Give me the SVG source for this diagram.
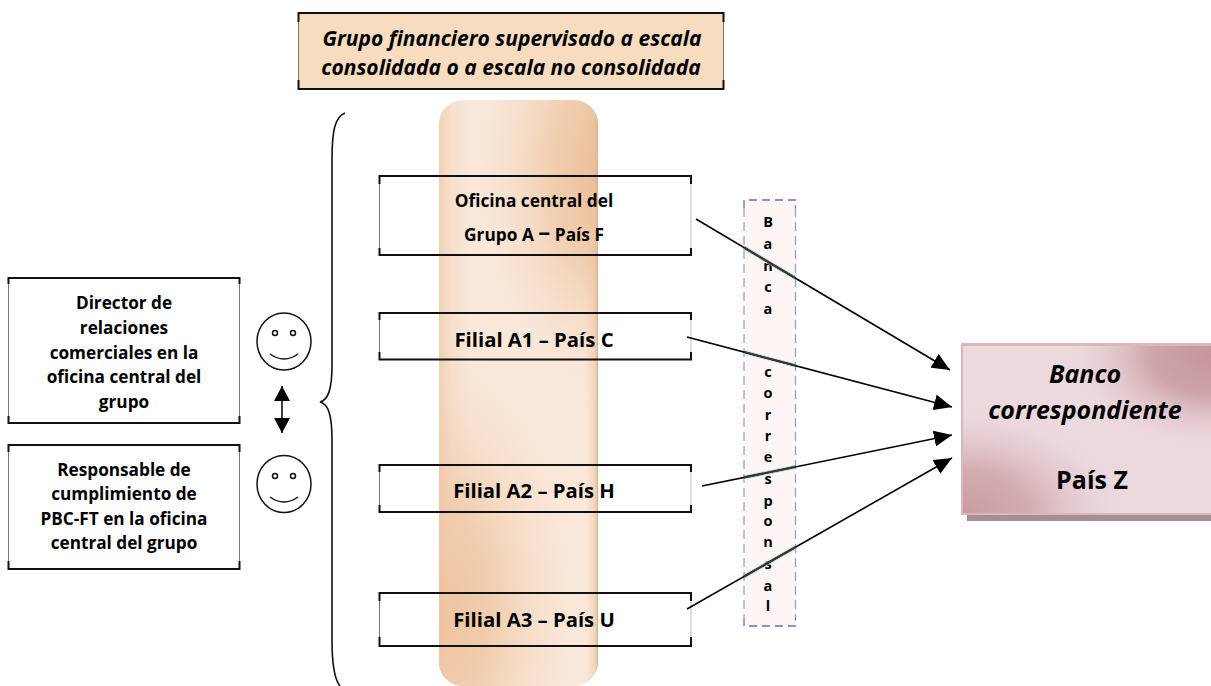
<svg xmlns="http://www.w3.org/2000/svg" width="1211" height="686" viewBox="0 0 1211 686">
<style>
text{font-family:"Open Sans","Noto Sans","Liberation Sans",sans-serif;font-weight:700;fill:#000;text-anchor:middle}
.i{font-style:italic}
.edge{fill:none;stroke:#111;stroke-width:2}
.side{fill:none;stroke:#777;stroke-width:1}
.sideR{fill:none;stroke:#bbb;stroke-width:1}
.face{fill:#fff;stroke:#111;stroke-width:1.5}
.eye{fill:#fff;stroke:#111;stroke-width:1.5}
.l{font-size:14.5px}
.f{font-size:20.3px}
.o{font-size:17.3px}
.s{font-size:17.2px}
.b{font-size:25px}
.conn{stroke:#000;stroke-width:1.6;fill:none;marker-end:url(#ah)}
.halo{stroke:#e8b79c;stroke-width:4;fill:none;opacity:.7;filter:url(#soft)}
.mid{stroke:#16424f;stroke-width:2.100;fill:none}
</style>
<defs>
<filter id="soft" x="-10%" y="-10%" width="120%" height="120%"><feGaussianBlur stdDeviation="0.6"/></filter>
<linearGradient id="pilEdge" x1="0" y1="0" x2="1" y2="0">
<stop offset="0" stop-color="#eec6a4" stop-opacity=".7"/><stop offset=".08" stop-color="#f0cdb0" stop-opacity=".3"/><stop offset=".2" stop-color="#f0cdb0" stop-opacity="0"/><stop offset=".92" stop-color="#e8bd98" stop-opacity="0"/><stop offset=".98" stop-color="#e8bd98" stop-opacity=".4"/><stop offset="1" stop-color="#dcb08a"/>
</linearGradient>
<radialGradient id="pilTop" gradientUnits="userSpaceOnUse" cx="0" cy="0" r="1" gradientTransform="translate(610 170) scale(150 250)">
<stop offset="0" stop-color="#ebbb92"/><stop offset=".4" stop-color="#efc8a6" stop-opacity=".8"/><stop offset="1" stop-color="#f9e8da" stop-opacity="0"/>
</radialGradient>
<radialGradient id="pilBot" gradientUnits="userSpaceOnUse" cx="0" cy="0" r="1" gradientTransform="translate(428 610) scale(165 290)">
<stop offset="0" stop-color="#ecbd96"/><stop offset=".4" stop-color="#f0caa9" stop-opacity=".85"/><stop offset="1" stop-color="#f9e8da" stop-opacity="0"/>
</radialGradient>
<radialGradient id="bankTop" gradientUnits="userSpaceOnUse" cx="0" cy="0" r="1" gradientTransform="translate(1211 355) scale(150 100)">
<stop offset="0" stop-color="#c5959a"/><stop offset=".4" stop-color="#cb9fa4" stop-opacity=".9"/><stop offset="1" stop-color="#ecd9de" stop-opacity="0"/>
</radialGradient>
<radialGradient id="bankBot" gradientUnits="userSpaceOnUse" cx="0" cy="0" r="1" gradientTransform="translate(963 515) scale(170 115)">
<stop offset="0" stop-color="#c99a9e"/><stop offset=".4" stop-color="#d0a8ad" stop-opacity=".9"/><stop offset="1" stop-color="#ecd9de" stop-opacity="0"/>
</radialGradient>
<marker id="ah" markerUnits="userSpaceOnUse" markerWidth="20" markerHeight="16" refX="18" refY="8" orient="auto">
<path d="M0 0L18 8L0 16Z" fill="#000"/>
</marker>
<marker id="ah2" markerUnits="userSpaceOnUse" markerWidth="16" markerHeight="16" refX="15" refY="8" orient="auto-start-reverse">
<path d="M0 0L15 8L0 16Z" fill="#000"/>
</marker>
</defs>

<g id="node-header">
<rect x="298" y="13" width="426" height="76" fill="#f7dcc0"/>
<path class="edge" d="M298.500 22V13H723.500V22M298.500 80V89H723.500V80"/>
<path class="side" d="M298.500 22V80M723.500 22V80"/>
<text class="i" x="512" y="46" font-size="21">Grupo financiero supervisado a escala</text>
<text class="i" x="511" y="75" font-size="21">consolidada o a escala no consolidada</text>
</g>

<g id="node-pillar" filter="url(#soft)">
<rect x="439" y="100" width="159" height="586" rx="24" fill="#f9e8da"/>
<rect x="439" y="100" width="159" height="586" rx="24" fill="url(#pilTop)"/>
<rect x="439" y="100" width="159" height="586" rx="24" fill="url(#pilBot)"/>
<rect x="439" y="100" width="159" height="586" rx="24" fill="url(#pilEdge)"/>
</g>

<g id="node-brace">
<path d="M345 113C335 117 332 130 332 160V365C332 390 328 400 320 402C328 404 332 414 332 440V640C332 665 335 680 340 686" fill="none" stroke="#111" stroke-width="1.6"/>
</g>

<g id="node-hq">
<path class="edge" d="M379.500 184V176H691V184M379.500 248V255H691V248"/>
<path class="side" d="M379.500 184V248"/><path class="sideR" d="M691 184V248"/>
<text class="o" x="534" y="207">Oficina central del</text>
<text class="o" x="534" y="241">Grupo A <tspan font-size="24" dy="-1">–</tspan><tspan dy="1"> País F</tspan></text>
</g>
<g id="node-a1">
<path class="edge" d="M379.500 320V313H691V320M379.500 352V359.500H691V352"/>
<path class="side" d="M379.500 320V352"/><path class="sideR" d="M691 320V352"/>
<text class="f" x="534" y="347">Filial A1 – País C</text>
</g>
<g id="node-a2">
<path class="edge" d="M379.500 472V465H691V472M379.500 505V512H691V505"/>
<path class="side" d="M379.500 472V505"/><path class="sideR" d="M691 472V505"/>
<text class="f" x="534" y="498">Filial A2 – País H</text>
</g>
<g id="node-a3">
<path class="edge" d="M379.500 601V593H691V601M379.500 637V646H691V637"/>
<path class="side" d="M379.500 601V637"/><path class="sideR" d="M691 601V637"/>
<text class="f" x="534" y="627">Filial A3 – País U</text>
</g>

<g id="node-director">
<path class="edge" d="M8.500 284V278H239.500V284M8.500 416V423H239.500V416"/>
<path class="side" d="M8.500 284V416M239.500 284V416"/>
<text class="s" x="124" y="309">Director de</text>
<text class="s" x="124" y="334">relaciones</text>
<text class="s" x="124" y="359">comerciales en la</text>
<text class="s" x="124" y="383">oficina central del</text>
<text class="s" x="124" y="408">grupo</text>
</g>
<g id="node-compliance">
<path class="edge" d="M8.500 452V445H239.500V452M8.500 561V569H239.500V561"/>
<path class="side" d="M8.500 452V561M239.500 452V561"/>
<text class="s" x="124" y="476">Responsable de</text>
<text class="s" x="124" y="500">cumplimiento de</text>
<text class="s" x="124" y="525">PBC-FT en la oficina</text>
<text class="s" x="124" y="549">central del grupo</text>
</g>

<g id="node-face1">
<ellipse class="face" cx="284" cy="341.500" rx="27" ry="28.500"/>
<circle class="eye" cx="275" cy="333" r="2.500"/><circle class="eye" cx="293" cy="333" r="2.500"/>
<path d="M270 354Q284 364 298 354" fill="none" stroke="#111" stroke-width="1.500"/>
</g>
<g id="node-face2">
<ellipse class="face" cx="284" cy="484" rx="27" ry="28.500"/>
<circle class="eye" cx="275" cy="476" r="2.500"/><circle class="eye" cx="293" cy="476" r="2.500"/>
<path d="M270 497Q284 507 298 497" fill="none" stroke="#111" stroke-width="1.500"/>
</g>

<g id="node-banca">
<rect x="744" y="200" width="51.500" height="426" fill="#fdf6f5"/>
<path d="M744 208V618M795.500 208V618" fill="none" stroke="#8fa6cf" stroke-width="1.300" stroke-dasharray="9 5"/>
<path d="M744 208V200H795.500V208M744 618V626H795.500V618" fill="none" stroke="#7a66b4" stroke-width="1.300" stroke-dasharray="8 5"/>
<text class="l" x="768" y="227">B</text>
<text class="l" x="768" y="249">a</text>
<text class="l" x="768" y="271">n</text>
<text class="l" x="768" y="292">c</text>
<text class="l" x="768" y="314">a</text>
<text class="l" x="768" y="377">c</text>
<text class="l" x="768" y="398">o</text>
<text class="l" x="768" y="420">r</text>
<text class="l" x="768" y="441">r</text>
<text class="l" x="768" y="462">e</text>
<text class="l" x="768" y="484">s</text>
<text class="l" x="768" y="506">p</text>
<text class="l" x="768" y="526">o</text>
<text class="l" x="768" y="547">n</text>
<text class="l" x="768" y="569">s</text>
<text class="l" x="768" y="591">a</text>
<text class="l" x="768" y="611">l</text>
</g>

<g id="node-bank">
<rect x="967" y="350" width="244" height="171" fill="#a98d96"/>
<rect x="961" y="343" width="250" height="172" fill="#d9b8bd"/>
<rect x="963" y="346" width="248" height="167" fill="#ecd9de"/>
<rect x="963" y="346" width="248" height="167" fill="url(#bankTop)"/>
<rect x="963" y="346" width="248" height="167" fill="url(#bankBot)"/>
<text class="i b" x="1085" y="383">Banco</text>
<text class="i b" x="1085" y="419">correspondiente</text>
<text class="b" x="1092" y="489">País Z</text>
</g>

<g id="connectors">
<path class="halo" d="M744 247.500L795.500 278.200M744 352L795.500 365.600M744 477.400L795.500 466.900M744 576.500L795.500 547.200"/>
<path class="conn" d="M696 219L950 370"/>
<path class="conn" d="M687 337L952 407"/>
<path class="conn" d="M702 486L952 435"/>
<path class="conn" d="M687 609L952 458"/>
<path class="mid" d="M744 247.500L795.500 278.200M744 352L795.500 365.600M744 477.400L795.500 466.900M744 576.500L795.500 547.200"/>
<path d="M282 386V433" fill="none" stroke="#000" stroke-width="1.500" marker-start="url(#ah2)" marker-end="url(#ah2)"/>
</g>
</svg>
